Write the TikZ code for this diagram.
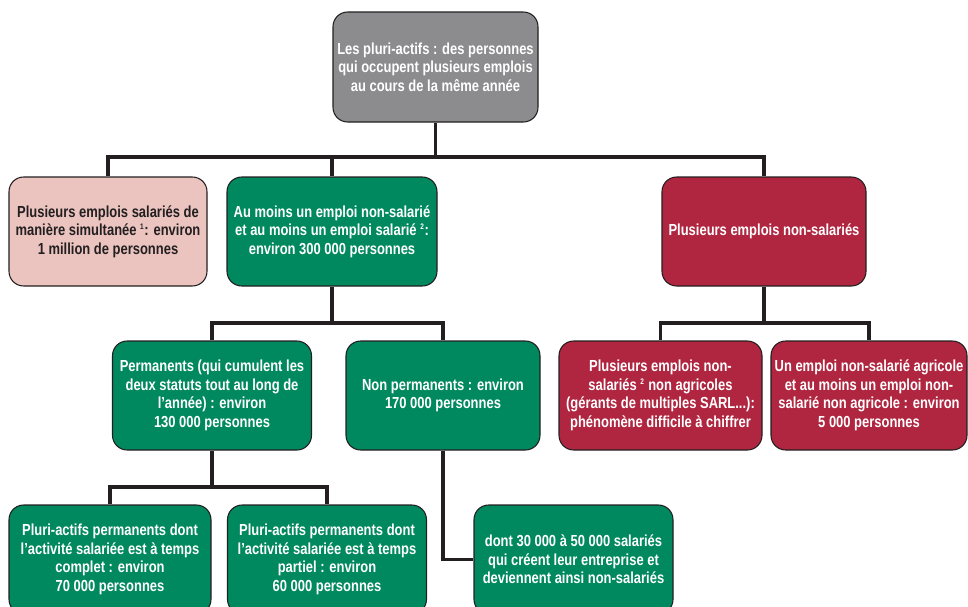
\documentclass[tikz,border=0pt]{standalone}
\usepackage{fontspec}
\setmainfont{Liberation Sans}[FakeStretch=0.81]
\definecolor{boxgray}{RGB}{140,140,142}
\definecolor{boxpink}{RGB}{235,196,192}
\definecolor{boxgreen}{RGB}{0,137,94}
\definecolor{boxred}{RGB}{176,38,64}
\definecolor{linec}{RGB}{35,31,32}
\newcommand{\supn}[1]{\textsuperscript{\fontsize{6}{6}\selectfont #1}}
\tikzset{
  box/.style={draw=linec, line width=0.8pt, rounded corners=11pt, inner sep=0pt,
    align=center, minimum height=81.75pt, text=white,
    font=\fontsize{12}{13.9}\selectfont\bfseries},
  graybox/.style={box, fill=boxgray, minimum height=82.5pt},
  pinkbox/.style={box, fill=boxpink, text=linec},
  greenbox/.style={box, fill=boxgreen},
  redbox/.style={box, fill=boxred},
  conn/.style={draw=linec, line width=2.3pt, line join=miter}
}
\begin{document}
\begin{tikzpicture}[x=0.75pt,y=-0.75pt]
\useasboundingbox (0,0) rectangle (968,607);
\clip (0,0) rectangle (968,607);
\coordinate (bus1) at (0,157);
\coordinate (bus2) at (0,323);
\coordinate (bus3) at (0,487);

\node[graybox, minimum width=153.75pt] (top) at (435.5,67)
  {Les pluri-actifs : des personnes\\qui occupent plusieurs emplois\\au cours de la même année};

\node[pinkbox, minimum width=148.5pt] (pink) at (108,231.5)
  {Plusieurs emplois salariés de\\manière simultanée \supn{1}: environ\\1 million de personnes};
\node[greenbox, minimum width=157.5pt] (g1) at (332,231.5)
  {Au moins un emploi non-salarié\\et au moins un emploi salarié \supn{2}:\\environ 300 000 personnes};
\node[redbox, minimum width=153pt] (r1) at (764,231.5)
  {Plusieurs emplois non-salariés};

\node[greenbox, minimum width=149.25pt] (perm) at (212,395.5)
  {Permanents (qui cumulent les\\deux statuts tout au long de\\l’année) : environ\\130 000 personnes};
\node[greenbox, minimum width=145.5pt] (nonperm) at (443,395.5)
  {Non permanents : environ\\170 000 personnes};
\node[redbox, minimum width=152.25pt] (r2a) at (660.5,395.5)
  {Plusieurs emplois non-\\salariés \supn{2} non agricoles\\(gérants de multiples SARL...):\\phénomène difficile à chiffrer};
\node[redbox, minimum width=147pt] (r2b) at (869,395.5)
  {Un emploi non-salarié agricole\\et au moins un emploi non-\\salarié non agricole : environ\\5 000 personnes};

\node[greenbox, minimum width=151.5pt] (bl) at (110,559.5)
  {Pluri-actifs permanents dont\\l’activité salariée est à temps\\complet : environ\\70 000 personnes};
\node[greenbox, minimum width=149.25pt] (bm) at (327,559.5)
  {Pluri-actifs permanents dont\\l’activité salariée est à temps\\partiel : environ\\60 000 personnes};
\node[greenbox, minimum width=149.25pt] (br) at (573.5,559.5)
  {dont 30 000 à 50 000 salariés\\qui créent leur entreprise et\\deviennent ainsi non-salariés};

% level 1
\draw[conn] (top.south) -- (top.south |- bus1);
\draw[conn] (pink.north) |- (r1.north |- bus1) -- (r1.north);
\draw[conn] (g1.north) -- (g1.north |- bus1);
% level 2 green
\draw[conn] (g1.south) -- (g1.south |- bus2);
\draw[conn] (perm.north) |- (nonperm.north |- bus2) -- (nonperm.north);
% level 2 red
\draw[conn] (r1.south) -- (r1.south |- bus2);
\draw[conn] (r2a.north) |- (r2b.north |- bus2) -- (r2b.north);
% level 3
\draw[conn] (perm.south) -- (perm.south |- bus3);
\draw[conn] (bl.north) |- (bm.north |- bus3) -- (bm.north);
\draw[conn] (nonperm.south) |- (br.west);
\end{tikzpicture}
\end{document}
